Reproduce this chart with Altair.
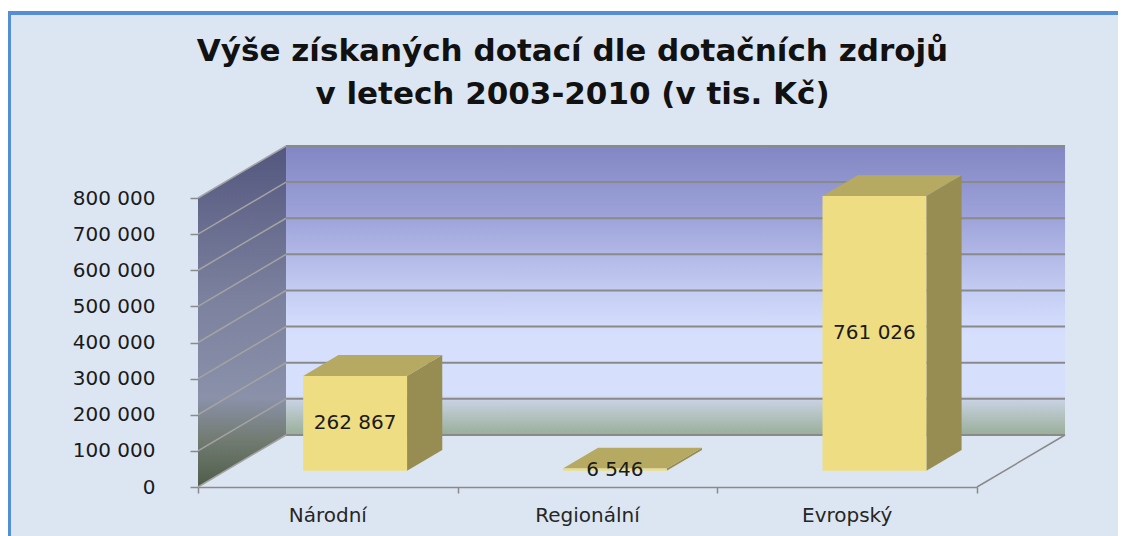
import altair as alt
import pandas as pd

# ---- data ----
categories = ["Národní", "Regionální", "Evropský"]
values = [262867, 6546, 761026]
y_ticks = [0, 100000, 200000, 300000, 400000, 500000, 600000, 700000, 800000]
x_ticks = [0, 1, 2, 3]
title_lines = ["Výše získaných dotací dle dotačních zdrojů", "v letech 2003-2010 (v tis. Kč)"]

# ---- 3D-look geometry (style constants) ----
YMAX = 800000
NCAT = len(categories)
DX = 0.339        # depth shift in category units
DY = 144000       # depth shift in value units
F1, F2 = 0.31, 0.71   # bar front / back depth fractions
HALF = 0.2            # half bar width in category units

FONT = "DejaVu Sans"
GRID = "#8a8a8a"

xs = alt.Scale(domain=[0, NCAT], nice=False, zero=False)
ys = alt.Scale(domain=[0, YMAX], nice=False, zero=False)

AX_X = alt.Axis(values=x_ticks, labels=False, title=None, grid=False,
                tickSize=6, tickColor=GRID, domainColor=GRID, domainWidth=1.5, tickWidth=1.5)
AX_Y = alt.Axis(values=y_ticks, title=None, grid=False, tickSize=8, tickWidth=1.5,
                tickColor=GRID, domainColor=GRID, labelPadding=35,
                labelFont=FONT, labelFontSize=20, labelColor="#1a1a1a",
                labelExpr="replace(format(datum.value, ','), ',', ' ')")


def X(f="x"):
    return alt.X(f"{f}:Q", scale=xs, axis=AX_X)


def Y(f="y"):
    return alt.Y(f"{f}:Q", scale=ys, axis=AX_Y, stack=None)


# left wall polygon
left_wall = pd.DataFrame({"x": [0, DX], "y": [0, DY], "y2": [YMAX, YMAX + DY]})
# back wall
back_wall = pd.DataFrame({"x": [DX], "x2": [NCAT + DX], "y": [DY], "y2": [YMAX + DY]})
# gridlines
back_grid = pd.DataFrame({"x": DX, "x2": NCAT + DX,
                          "y": [v + DY for v in y_ticks], "y2": [v + DY for v in y_ticks]})
left_grid = pd.DataFrame({"x": 0, "x2": DX, "y": y_ticks, "y2": [v + DY for v in y_ticks]})
floor_edge = pd.DataFrame({"x": [NCAT], "x2": [NCAT + DX], "y": [0], "y2": [DY]})

# bars
centers = [i + 0.5 for i in range(NCAT)]
front = pd.DataFrame({
    "cat": categories,
    "x": [c - HALF + F1 * DX for c in centers],
    "x2": [c + HALF + F1 * DX for c in centers],
    "y": [F1 * DY] * NCAT,
    "y2": [v + F1 * DY for v in values],
})
side_rows, top_rows = [], []
for cat, c, v in zip(categories, centers, values):
    xr = c + HALF
    xl = c - HALF
    side_rows += [
        {"face": cat, "x": xr + F1 * DX, "y": F1 * DY, "y2": v + F1 * DY},
        {"face": cat, "x": xr + F2 * DX, "y": F2 * DY, "y2": v + F2 * DY},
    ]
    top_rows += [
        {"face": cat, "x": xl + F1 * DX, "y": v + F1 * DY, "y2": v + F1 * DY},
        {"face": cat, "x": xl + F2 * DX, "y": v + F1 * DY, "y2": v + F2 * DY},
        {"face": cat, "x": xr + F1 * DX, "y": v + F1 * DY, "y2": v + F2 * DY},
        {"face": cat, "x": xr + F2 * DX, "y": v + F2 * DY, "y2": v + F2 * DY},
    ]
side = pd.DataFrame(side_rows)
top = pd.DataFrame(top_rows)

vlabels = pd.DataFrame({
    "x": [c + F1 * DX for c in centers],
    "y": [v / 2 + F1 * DY for v in values],
    "label": [f"{v:,}".replace(",", " ") for v in values],
})
clabels = pd.DataFrame({"x": centers, "y": [0] * NCAT, "cat": categories})


def grad(stops):
    return {"gradient": "linear", "x1": 0, "y1": 0, "x2": 0, "y2": 1,
            "stops": [{"offset": o, "color": c} for o, c in stops]}


lw = alt.Chart(left_wall).mark_area(
    fill=grad([(0, "#54577e"), (0.45, "#7c819e"), (0.74, "#8a91a9"), (0.86, "#727c72"), (1, "#4f5d4a")])
).encode(x=X(), y=Y(), y2="y2:Q")

bw = alt.Chart(back_wall).mark_rect(
    fill=grad([(0, "#8286c3"), (0.25, "#9ea4da"), (0.55, "#cbd4f7"), (0.66, "#d6e0fd"),
               (0.862, "#d6e0fd"), (0.876, "#c9d3e4"), (1, "#9aae98")])
).encode(x=X(), x2="x2:Q", y=Y(), y2="y2:Q")

bg = alt.Chart(back_grid).mark_rule(color=GRID, strokeWidth=2).encode(
    x=X(), x2="x2:Q", y=Y(), y2="y2:Q")
lg = alt.Chart(left_grid).mark_rule(color="#a3a3a3", strokeWidth=1.5).encode(
    x=X(), x2="x2:Q", y=Y(), y2="y2:Q")
fe = alt.Chart(floor_edge).mark_rule(color=GRID, strokeWidth=1.5).encode(
    x=X(), x2="x2:Q", y=Y(), y2="y2:Q")

side_l = alt.Chart(side).mark_area(color="#978c52").encode(
    x=X(), y=Y(), y2="y2:Q", detail="face:N")
top_l = alt.Chart(top).mark_area(color="#b6aa62").encode(
    x=X(), y=Y(), y2="y2:Q", detail="face:N")
front_l = alt.Chart(front).mark_rect(color="#eedd82").encode(
    x=X(), x2="x2:Q", y=Y(), y2="y2:Q")

vt = alt.Chart(vlabels).mark_text(font=FONT, fontSize=20, color="#1a1a1a", baseline="middle").encode(
    x=X(), y=Y(), text="label:N")
ct = alt.Chart(clabels).mark_text(font=FONT, fontSize=20, color="#262626", baseline="middle", dy=29).encode(
    x=X(), y=Y(), text="cat:N")

# frame decoration
frame_top = alt.Chart(pd.DataFrame({"a": [0]})).mark_rule(color="#558ed5", strokeWidth=4).encode(
    x=alt.value(-190), x2=alt.value(930), y=alt.value(-185))
frame_white = alt.Chart(pd.DataFrame({"a": [0]})).mark_rule(color="#ffffff", strokeWidth=3).encode(
    x=alt.value(-190), x2=alt.value(930), y=alt.value(-188.5))
frame_left = alt.Chart(pd.DataFrame({"a": [0]})).mark_rule(color="#558ed5", strokeWidth=3).encode(
    x=alt.value(-188.5), y=alt.value(-187), y2=alt.value(345))

chart = alt.layer(
    frame_white, frame_top, frame_left,
    lw, bw, bg, lg, fe,
    side_l, top_l, front_l, vt, ct,
).properties(
    width=779, height=289,
    padding={"left": 190, "top": 190, "right": 141, "bottom": 49},
    autosize=alt.AutoSizeParams(type="none"),
    title=alt.TitleParams(text=title_lines, font=FONT, fontSize=31, fontWeight="bold",
                          color="#111111", anchor="middle", lineHeight=43, dx=-15, dy=107),
).configure(background="#dce6f2").configure_view(stroke=None)

chart.save("out.html", embed_options={"renderer": "svg", "actions": False})
